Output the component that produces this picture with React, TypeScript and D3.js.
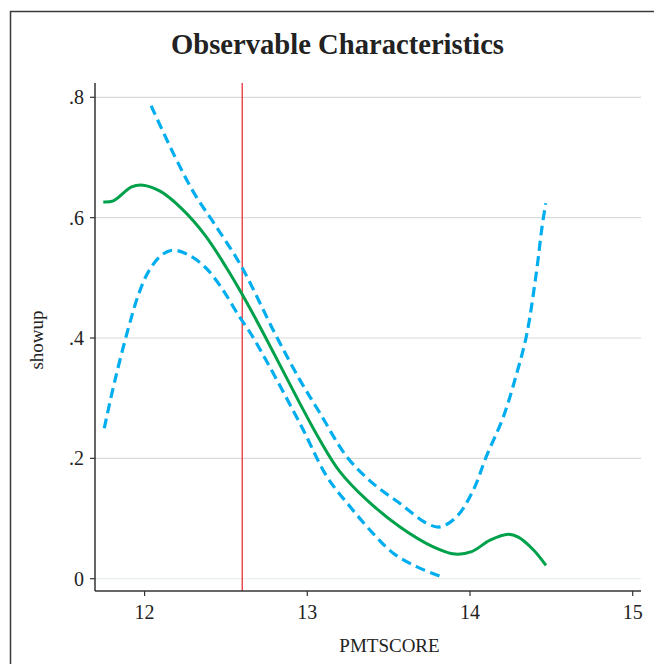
import React from "react";
import * as d3 from "d3";

const title = "Observable Characteristics";
const xLabel = "PMTSCORE";
const yLabel = "showup";
const xTicks = [12, 13, 14, 15];
const yTicks = [0, 0.2, 0.4, 0.6, 0.8];
const yTickLabels = ["0", ".2", ".4", ".6", ".8"];
const cutoff = 12.6;

const fitX = [11.746, 11.808, 11.92, 11.99, 12.095, 12.228, 12.371, 12.505, 12.603, 12.73, 12.955, 13.078, 13.2, 13.365, 13.57, 13.774, 13.908, 14.01, 14.123, 14.235, 14.297, 14.389, 14.467];
const fitY = [0.626, 0.628, 0.651, 0.654, 0.644, 0.615, 0.571, 0.516, 0.471, 0.408, 0.291, 0.23, 0.178, 0.131, 0.086, 0.053, 0.041, 0.045, 0.064, 0.074, 0.069, 0.048, 0.022];

const upperX = [12.04, 12.187, 12.31, 12.433, 12.597, 12.8, 12.955, 13.078, 13.242, 13.405, 13.57, 13.734, 13.816, 13.918, 14.02, 14.1, 14.205, 14.287, 14.348, 14.41, 14.44, 14.465];
const upperY = [0.786, 0.701, 0.638, 0.588, 0.518, 0.408, 0.33, 0.275, 0.203, 0.158, 0.125, 0.092, 0.086, 0.103, 0.147, 0.203, 0.269, 0.341, 0.405, 0.513, 0.579, 0.624];

const lowerX = [11.752, 11.818, 11.9, 11.961, 12.023, 12.105, 12.176, 12.27, 12.371, 12.474, 12.576, 12.658, 12.955, 13.12, 13.262, 13.405, 13.53, 13.672, 13.826];
const lowerY = [0.25, 0.33, 0.416, 0.471, 0.51, 0.538, 0.546, 0.538, 0.518, 0.483, 0.438, 0.405, 0.258, 0.17, 0.12, 0.075, 0.042, 0.02, 0.003];

const W = 654;
const H = 664;
const FONT = "'Liberation Serif', 'Times New Roman', serif";

export default function App() {
  // plot region
  const left = 95;
  const right = 641;
  const top = 83;
  const bottom = 591;
  const x = d3.scaleLinear().domain([12, 15]).range([144.6, 632.7]);
  const y = d3.scaleLinear().domain([0, 0.8]).range([578.7, 97.3]);

  const line = d3
    .line<[number, number]>()
    .x((d) => x(d[0]))
    .y((d) => y(d[1]))
    .curve(d3.curveCatmullRom.alpha(0.5));

  const zip = (a: number[], b: number[]) => a.map((v, i) => [v, b[i]] as [number, number]);

  return (
    <svg
      width={W}
      height={H}
      style={{ position: "absolute", left: 0, top: 0, background: "#fff" }}
    >
      <rect x={0} y={0} width={W} height={H} fill="#fff" />
      <rect x={10.5} y={11.5} width={800} height={800} fill="#fff" stroke="#3a3a3a" strokeWidth={1.5} />
      <text
        x={337.5}
        y={54}
        textAnchor="middle"
        fontFamily={FONT}
        fontWeight="bold"
        fontSize={28.5}
        fill="#222"
        textLength={333}
        lengthAdjust="spacingAndGlyphs"
      >
        {title}
      </text>
      {yTicks.map((t, i) => (
        <line
          key={"g" + i}
          x1={left}
          x2={right}
          y1={y(t)}
          y2={y(t)}
          stroke={t === 0 ? "#e9efef" : "#dadada"}
          strokeWidth={1.2}
        />
      ))}
      <line x1={x(cutoff)} x2={x(cutoff)} y1={top} y2={bottom} stroke="#e8202a" strokeWidth={1.2} />
      <path d={line(zip(upperX, upperY)) || ""} fill="none" stroke="#00aeef" strokeWidth={3.2} strokeDasharray="10,5.5" />
      <path d={line(zip(lowerX, lowerY)) || ""} fill="none" stroke="#00aeef" strokeWidth={3.2} strokeDasharray="10,5.5" />
      <path d={line(zip(fitX, fitY)) || ""} fill="none" stroke="#00a14b" strokeWidth={3} />
      {/* axes */}
      <line x1={left} x2={left} y1={top} y2={bottom} stroke="#333" strokeWidth={1.5} />
      <line x1={left} x2={right} y1={bottom} y2={bottom} stroke="#333" strokeWidth={1.5} />
      {yTicks.map((t, i) => (
        <g key={"yt" + i}>
          <line x1={left - 5} x2={left} y1={y(t)} y2={y(t)} stroke="#333" strokeWidth={1.2} />
          <text
            x={left - 11}
            y={y(t)}
            dy="0.35em"
            textAnchor="end"
            fontFamily={FONT}
            fontSize={20}
            fill="#222"
          >
            {yTickLabels[i]}
          </text>
        </g>
      ))}
      {xTicks.map((t, i) => (
        <g key={"xt" + i}>
          <line x1={x(t)} x2={x(t)} y1={bottom} y2={bottom + 5} stroke="#333" strokeWidth={1.2} />
          <text
            x={x(t)}
            y={619}
            textAnchor="middle"
            fontFamily={FONT}
            fontSize={20}
            fill="#222"
          >
            {t}
          </text>
        </g>
      ))}
      <text x={389.5} y={652} textAnchor="middle" fontFamily={FONT} fontSize={19} fill="#222">
        {xLabel}
      </text>
      <text
        transform={`translate(43,340) rotate(-90)`}
        textAnchor="middle"
        fontFamily={FONT}
        fontSize={19}
        fill="#222"
      >
        {yLabel}
      </text>
    </svg>
  );
}
